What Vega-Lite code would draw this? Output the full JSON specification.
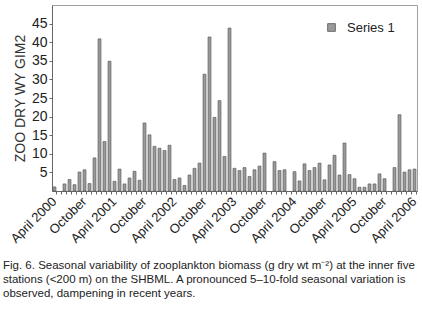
{
  "$schema": "https://vega.github.io/schema/vega-lite/v6.json",
  "autosize": {"type": "none"},
  "padding": {"left": 52, "top": 5, "right": 5, "bottom": 120},
  "width": 365,
  "height": 186,
  "background": "white",
  "config": {
    "font": "Liberation Sans",
    "view": {"stroke": "#a0a0a0", "strokeWidth": 1},
    "axis": {"domainColor": "#666666", "tickColor": "#666666", "labelColor": "#222222", "titleColor": "#333333", "grid": false}
  },
  "title": {
    "text": [
      "Fig. 6. Seasonal variability of zooplankton biomass (g dry wt m⁻²) at the inner five",
      "stations (<200 m) on the SHBML. A pronounced 5–10-fold seasonal variation is",
      "observed, dampening in recent years."
    ],
    "orient": "bottom",
    "anchor": "start",
    "frame": "group",
    "dx": -49,
    "offset": 15,
    "fontSize": 11.5,
    "fontWeight": "normal",
    "lineHeight": 14,
    "color": "#222222",
    "font": "Liberation Sans"
  },
  "data": {
    "values": [
      {"month": "2000-04", "biomass": 1.1, "series": "Series 1"},
      {"month": "2000-06", "biomass": 1.9, "series": "Series 1"},
      {"month": "2000-07", "biomass": 3.1, "series": "Series 1"},
      {"month": "2000-08", "biomass": 1.7, "series": "Series 1"},
      {"month": "2000-09", "biomass": 5.1, "series": "Series 1"},
      {"month": "2000-10", "biomass": 5.7, "series": "Series 1"},
      {"month": "2000-11", "biomass": 2.0, "series": "Series 1"},
      {"month": "2000-12", "biomass": 8.9, "series": "Series 1"},
      {"month": "2001-01", "biomass": 40.9, "series": "Series 1"},
      {"month": "2001-02", "biomass": 13.3, "series": "Series 1"},
      {"month": "2001-03", "biomass": 34.9, "series": "Series 1"},
      {"month": "2001-04", "biomass": 2.6, "series": "Series 1"},
      {"month": "2001-05", "biomass": 5.9, "series": "Series 1"},
      {"month": "2001-06", "biomass": 1.9, "series": "Series 1"},
      {"month": "2001-07", "biomass": 3.5, "series": "Series 1"},
      {"month": "2001-08", "biomass": 5.3, "series": "Series 1"},
      {"month": "2001-09", "biomass": 2.9, "series": "Series 1"},
      {"month": "2001-10", "biomass": 18.3, "series": "Series 1"},
      {"month": "2001-11", "biomass": 15.1, "series": "Series 1"},
      {"month": "2001-12", "biomass": 12.0, "series": "Series 1"},
      {"month": "2002-01", "biomass": 11.5, "series": "Series 1"},
      {"month": "2002-02", "biomass": 10.9, "series": "Series 1"},
      {"month": "2002-03", "biomass": 12.3, "series": "Series 1"},
      {"month": "2002-04", "biomass": 3.1, "series": "Series 1"},
      {"month": "2002-05", "biomass": 3.5, "series": "Series 1"},
      {"month": "2002-06", "biomass": 1.5, "series": "Series 1"},
      {"month": "2002-07", "biomass": 4.3, "series": "Series 1"},
      {"month": "2002-08", "biomass": 6.1, "series": "Series 1"},
      {"month": "2002-09", "biomass": 7.5, "series": "Series 1"},
      {"month": "2002-10", "biomass": 31.4, "series": "Series 1"},
      {"month": "2002-11", "biomass": 41.4, "series": "Series 1"},
      {"month": "2002-12", "biomass": 19.8, "series": "Series 1"},
      {"month": "2003-01", "biomass": 24.3, "series": "Series 1"},
      {"month": "2003-02", "biomass": 9.3, "series": "Series 1"},
      {"month": "2003-03", "biomass": 43.8, "series": "Series 1"},
      {"month": "2003-04", "biomass": 6.1, "series": "Series 1"},
      {"month": "2003-05", "biomass": 5.5, "series": "Series 1"},
      {"month": "2003-06", "biomass": 6.3, "series": "Series 1"},
      {"month": "2003-07", "biomass": 3.9, "series": "Series 1"},
      {"month": "2003-08", "biomass": 5.7, "series": "Series 1"},
      {"month": "2003-09", "biomass": 6.7, "series": "Series 1"},
      {"month": "2003-10", "biomass": 10.2, "series": "Series 1"},
      {"month": "2003-12", "biomass": 7.9, "series": "Series 1"},
      {"month": "2004-01", "biomass": 5.5, "series": "Series 1"},
      {"month": "2004-02", "biomass": 5.7, "series": "Series 1"},
      {"month": "2004-04", "biomass": 5.2, "series": "Series 1"},
      {"month": "2004-05", "biomass": 2.7, "series": "Series 1"},
      {"month": "2004-06", "biomass": 7.3, "series": "Series 1"},
      {"month": "2004-07", "biomass": 5.5, "series": "Series 1"},
      {"month": "2004-08", "biomass": 6.3, "series": "Series 1"},
      {"month": "2004-09", "biomass": 7.5, "series": "Series 1"},
      {"month": "2004-10", "biomass": 3.0, "series": "Series 1"},
      {"month": "2004-11", "biomass": 7.0, "series": "Series 1"},
      {"month": "2004-12", "biomass": 9.6, "series": "Series 1"},
      {"month": "2005-01", "biomass": 4.3, "series": "Series 1"},
      {"month": "2005-02", "biomass": 12.9, "series": "Series 1"},
      {"month": "2005-03", "biomass": 4.4, "series": "Series 1"},
      {"month": "2005-04", "biomass": 3.3, "series": "Series 1"},
      {"month": "2005-05", "biomass": 1.0, "series": "Series 1"},
      {"month": "2005-06", "biomass": 1.0, "series": "Series 1"},
      {"month": "2005-07", "biomass": 1.9, "series": "Series 1"},
      {"month": "2005-08", "biomass": 1.9, "series": "Series 1"},
      {"month": "2005-09", "biomass": 4.6, "series": "Series 1"},
      {"month": "2005-10", "biomass": 3.3, "series": "Series 1"},
      {"month": "2005-12", "biomass": 6.3, "series": "Series 1"},
      {"month": "2006-01", "biomass": 20.5, "series": "Series 1"},
      {"month": "2006-02", "biomass": 5.1, "series": "Series 1"},
      {"month": "2006-03", "biomass": 5.7, "series": "Series 1"},
      {"month": "2006-04", "biomass": 5.9, "series": "Series 1"}
    ]
  },
  "mark": {"type": "bar", "stroke": "#555555", "strokeWidth": 0.6},
  "encoding": {
    "x": {
      "field": "month",
      "type": "ordinal",
      "scale": {
        "domain": ["2000-04","2000-05","2000-06","2000-07","2000-08","2000-09","2000-10","2000-11","2000-12",
                   "2001-01","2001-02","2001-03","2001-04","2001-05","2001-06","2001-07","2001-08","2001-09","2001-10","2001-11","2001-12",
                   "2002-01","2002-02","2002-03","2002-04","2002-05","2002-06","2002-07","2002-08","2002-09","2002-10","2002-11","2002-12",
                   "2003-01","2003-02","2003-03","2003-04","2003-05","2003-06","2003-07","2003-08","2003-09","2003-10","2003-11","2003-12",
                   "2004-01","2004-02","2004-03","2004-04","2004-05","2004-06","2004-07","2004-08","2004-09","2004-10","2004-11","2004-12",
                   "2005-01","2005-02","2005-03","2005-04","2005-05","2005-06","2005-07","2005-08","2005-09","2005-10","2005-11","2005-12",
                   "2006-01","2006-02","2006-03","2006-04"],
        "paddingInner": 0.4,
        "paddingOuter": 0.2
      },
      "axis": {
        "title": null,
        "labelAngle": -45,
        "labelAlign": "right",
        "labelBaseline": "middle",
        "labelFontSize": 13,
        "labelOverlap": false,
        "labelPadding": 5,
        "tickSize": 3,
        "bandPosition": 1.1,
        "labelExpr": "slice(datum.value, 5) == '04' ? 'April ' + slice(datum.value, 0, 4) : (slice(datum.value, 5) == '10' ? 'October' : '')"
      }
    },
    "y": {
      "field": "biomass",
      "type": "quantitative",
      "scale": {"domain": [0, 50], "nice": false},
      "axis": {
        "title": "ZOO DRY WY GIM2",
        "titleFontSize": 14,
        "titleFontWeight": "normal",
        "titlePadding": 4,
        "labelFontSize": 14,
        "labelPadding": 2,
        "tickSize": 3,
        "values": [5, 10, 15, 20, 25, 30, 35, 40, 45]
      }
    },
    "color": {
      "field": "series",
      "type": "nominal",
      "scale": {"range": ["#9a9a9a"]},
      "legend": {
        "title": null,
        "orient": "none",
        "legendX": 273,
        "legendY": 16,
        "symbolType": "square",
        "symbolSize": 60,
        "symbolStrokeColor": "#555555",
        "symbolStrokeWidth": 0.8,
        "labelFontSize": 13,
        "labelColor": "#222222",
        "labelOffset": 9
      }
    }
  }
}
